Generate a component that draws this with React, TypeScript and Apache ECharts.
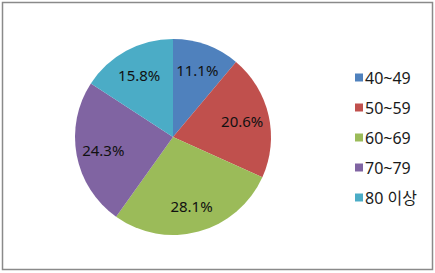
import React, { useEffect, useRef } from "react";
import * as echarts from "echarts";

// Age groups and their share (%) of the total
const categories: string[] = ["40~49", "50~59", "60~69", "70~79", "80 이상"];
const shares: number[] = [11.1, 20.6, 28.1, 24.3, 15.8];
const colors: string[] = ["#4F81BD", "#C0504D", "#9BBB59", "#8064A2", "#4BACC6"];

const FONT = "'Noto Sans', 'Noto Sans CJK KR', sans-serif";

export default function App() {
  const ref = useRef<HTMLDivElement>(null);

  useEffect(() => {
    document.body.style.margin = "0";
    const chart = echarts.init(ref.current!, null, { renderer: "svg" });
    const data = categories.map((name, i) => ({
      name,
      value: shares[i],
      itemStyle: { color: colors[i] },
    }));
    chart.setOption({
      animation: false,
      backgroundColor: "#ffffff",
      graphic: [
        {
          type: "rect",
          shape: { x: 2.5, y: 2.5, width: 430, height: 267 },
          style: { fill: "none", stroke: "#8a8a8a", lineWidth: 1.5 },
          silent: true,
        },
      ],
      legend: {
        orient: "vertical",
        left: 350,
        top: 63,
        itemWidth: 8,
        itemHeight: 8,
        itemGap: 11,
        icon: "rect",
        data: categories,
        textStyle: {
          fontFamily: FONT,
          fontSize: 16,
          lineHeight: 19,
          color: "#1a1a1a",
          padding: [0, 0, 0, -3],
        },
        selectedMode: false,
      },
      series: [
        {
          type: "pie",
          center: [173, 137],
          radius: 98,
          startAngle: 90,
          clockwise: true,
          silent: true,
          label: { show: false },
          labelLine: { show: false },
          data,
        },
        {
          // label carrier: same angles, labels sit at ~0.69 of the radius
          type: "pie",
          center: [173, 137],
          radius: [38, 98],
          startAngle: 90,
          clockwise: true,
          silent: true,
          itemStyle: { color: "transparent" },
          label: {
            show: true,
            position: "inside",
            formatter: "{c}%",
            fontFamily: FONT,
            fontSize: 15,
            color: "#111",
          },
          labelLine: { show: false },
          data: categories.map((name, i) => ({ name, value: shares[i] })),
        },
      ],
    });
    return () => chart.dispose();
  }, []);

  return (
    <div
      ref={ref}
      style={{ position: "absolute", left: 0, top: 0, width: 435, height: 273 }}
    />
  );
}
